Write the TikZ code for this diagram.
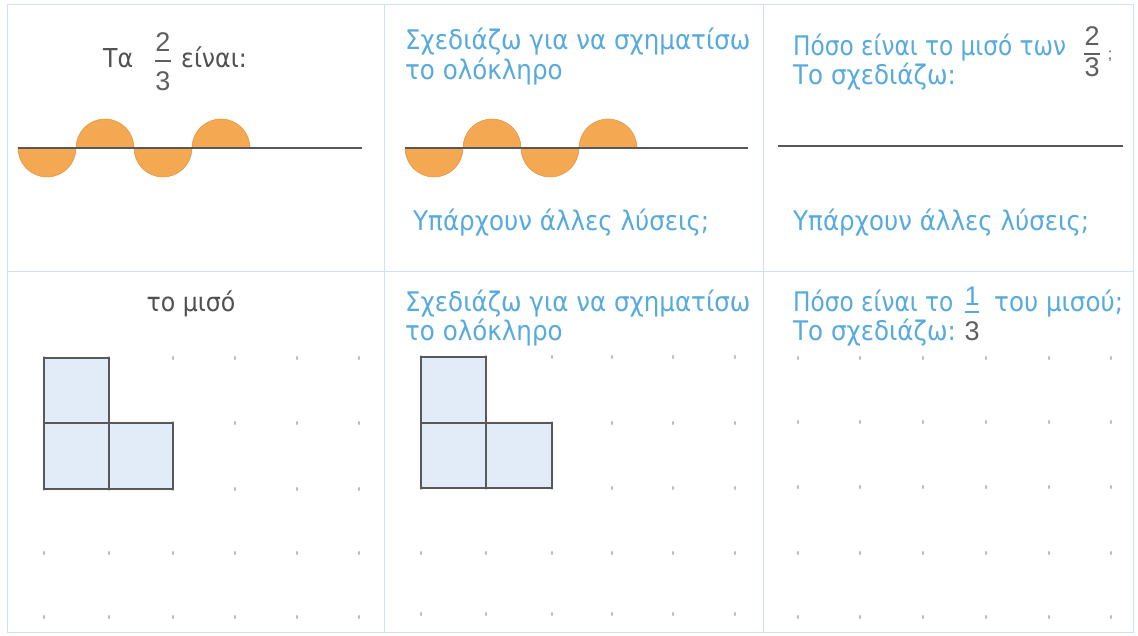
\documentclass[tikz,border=0pt]{standalone}
\usepackage{fontspec}
\setmainfont{DejaVu Sans}
\newfontfamily\gk[FakeStretch=0.91]{DejaVu Sans}
\newfontfamily\gkn[FakeStretch=0.86]{DejaVu Sans}
\newfontfamily\dg{Liberation Sans}
\definecolor{txtblue}{RGB}{86,170,222}
\definecolor{txtgray}{RGB}{80,80,80}
\definecolor{digitgray}{RGB}{95,95,95}
\definecolor{bordercol}{RGB}{206,226,242}
\definecolor{arcfill}{RGB}{245,168,82}
\definecolor{arcedge}{RGB}{228,146,66}
\definecolor{sqfill}{RGB}{226,235,248}
\definecolor{linegray}{RGB}{88,88,88}
\definecolor{dotgray}{RGB}{190,190,190}
\begin{document}
\begin{tikzpicture}[x=1pt,y=-1pt,
  bluetxt/.style={anchor=base west, inner sep=0pt, text=txtblue, font={\gk\fontsize{27}{30}\selectfont}},
  bluenarrow/.style={bluetxt, font={\gkn\fontsize{27}{30}\selectfont}},
  graytxt/.style={anchor=base west, inner sep=0pt, text=txtgray, font={\gk\fontsize{26}{30}\selectfont}},
  digit/.style={anchor=base, inner sep=0pt, text=digitgray, font={\dg\fontsize{27}{30}\selectfont}},
  bluedigit/.style={digit, text=txtblue},
  fracbar/.style={line width=1.3pt},
  baseline/.style={draw=linegray, line width=1.4pt},
  halfdisc/.style={fill=arcfill, draw=arcedge, line width=0.5pt},
  cell/.style={fill=sqfill, draw=linegray, line width=1.6pt},
  panel/.style={draw=bordercol, line width=1pt},
  griddot/.style={fill=dotgray, draw=none}
]
\useasboundingbox (0,0) rectangle (1138,636);
\fill[white] (0,0) rectangle (1138,636);

% panel borders
\draw[panel] (7,5) rectangle (1133,632);
\draw[panel] (384,5) -- (384,632);
\draw[panel] (763,5) -- (763,632);
\draw[panel] (7,272) -- (1133,272);

% ---------- top-left ----------
\node[graytxt] (tla) at (103,68) {Τα};
\node[digit] (tln) at (163,52) {2};
\node[digit] (tld) at (163,91) {3};
\draw[fracbar, digitgray] (155,61) -- (171,61);
\node[graytxt] (tlb) at (181,68) {είναι:};
\foreach \c/\s in {47/-1,105/1,163/-1,221/1}{
  \ifnum\s<0
    \filldraw[halfdisc] (\c-29,148) arc[start angle=180, end angle=360, radius=29pt] -- cycle;
  \else
    \filldraw[halfdisc] (\c-29,148) arc[start angle=180, end angle=0, radius=29pt] -- cycle;
  \fi
}
\draw[baseline] (18,148) -- (362,148);

% ---------- top-middle ----------
\node[bluetxt] (tma) at (405,50) {Σχεδιάζω για να σχηματίσω};
\node[bluetxt] (tmb) at (405,80) {το ολόκληρο};
\foreach \c/\s in {434/-1,492/1,550/-1,608/1}{
  \ifnum\s<0
    \filldraw[halfdisc] (\c-29,148) arc[start angle=180, end angle=360, radius=29pt] -- cycle;
  \else
    \filldraw[halfdisc] (\c-29,148) arc[start angle=180, end angle=0, radius=29pt] -- cycle;
  \fi
}
\draw[baseline] (405,148) -- (748,148);
\node[bluetxt] (tmc) at (413,231) {Υπάρχουν άλλες λύσεις;};

% ---------- top-right ----------
\node[bluenarrow] (tra) at (793,56) {Πόσο είναι το μισό των};
\node[digit] (trn) at (1092,46) {2};
\node[digit] (trd) at (1092,77) {3};
\draw[fracbar, digitgray] (1084,54) -- (1100,54);
\node[anchor=base, inner sep=0pt, text=digitgray, font={\dg\fontsize{16}{18}\selectfont}] (trs) at (1110,60) {;};
\node[bluetxt] (trb) at (793,85) {Το σχεδιάζω:};
\draw[baseline] (778,146) -- (1123,146);
\node[bluetxt] (trc) at (793,231) {Υπάρχουν άλλες λύσεις;};

% ---------- bottom-left ----------
\node[graytxt, anchor=base] (bla) at (191,312) {το μισό};
\foreach \x in {44,109,173,235,297,359}{
  \foreach \y in {358,423,489,553,617}{
    \fill[griddot] (\x,\y) ellipse[x radius=1.1pt, y radius=2pt];
  }
}
\draw[cell] (44,358) rectangle (109,423);
\draw[cell] (44,423) rectangle (109,489);
\draw[cell] (109,423) rectangle (173,489);

% ---------- bottom-middle ----------
\node[bluetxt] (bma) at (405,312) {Σχεδιάζω για να σχηματίσω};
\node[bluetxt] (bmb) at (405,341) {το ολόκληρο};
\foreach \x in {421,486,552,612,673,735}{
  \foreach \y in {357,423,488,553,614}{
    \fill[griddot] (\x,\y) ellipse[x radius=1.1pt, y radius=2pt];
  }
}
\draw[cell] (421,357) rectangle (486,423);
\draw[cell] (421,423) rectangle (486,488);
\draw[cell] (486,423) rectangle (552,488);

% ---------- bottom-right ----------
\node[bluenarrow] (bra) at (793,312) {Πόσο είναι το};
\node[bluedigit] (brn) at (972,306) {1};
\draw[fracbar, txtblue] (965,312) -- (979,312);
\node[digit] (brd) at (972,341) {3};
\node[bluetxt] (brb) at (994,312) {του μισού;};
\node[bluetxt] (brc) at (793,341) {Το σχεδιάζω:};
\foreach \x in {798,860,923,986,1049,1111}{
  \foreach \y in {358,422,487,553,617}{
    \fill[griddot] (\x,\y) ellipse[x radius=1.1pt, y radius=2pt];
  }
}
\end{tikzpicture}
\end{document}
